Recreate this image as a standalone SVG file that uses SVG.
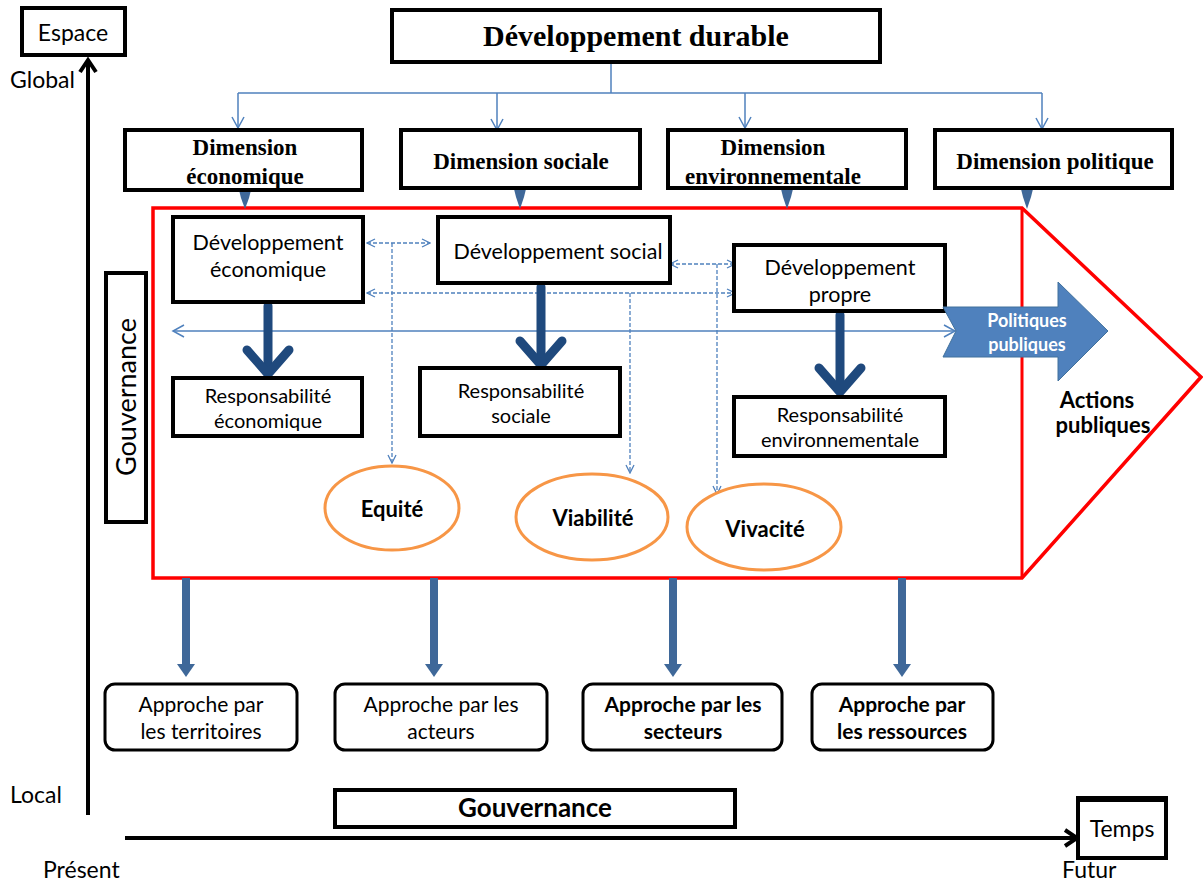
<svg xmlns="http://www.w3.org/2000/svg" width="1203" height="881" viewBox="0 0 1203 881">
<style>
.box{fill:#fff;stroke:#000;stroke-width:4}
.rbox{fill:#fff;stroke:#000;stroke-width:3}
.serif{font-family:"Liberation Serif","Times New Roman",serif;font-weight:bold;fill:#000}
.sans{font-family:Lato,"Liberation Sans",sans-serif;fill:#000}
.b{font-weight:bold}
.thin{stroke:#4F81BD;stroke-width:1.5;fill:none}
.dash{stroke:#4F81BD;stroke-width:1.3;fill:none;stroke-dasharray:4 2}
.ell{fill:#fff;stroke:#F79646;stroke-width:3}
.thick{stroke:#1F497D;stroke-width:9;fill:none;stroke-linejoin:round;stroke-linecap:round}
.down{fill:#3F6899}
.axis{stroke:#000;stroke-width:4;fill:none}
</style>
<defs>
<marker id="open" viewBox="0 0 10 10" refX="9" refY="5" markerWidth="10" markerHeight="10" markerUnits="userSpaceOnUse" orient="auto-start-reverse">
<path d="M1,1 L9,5 L1,9" fill="none" stroke="#4F81BD" stroke-width="1.3"/>
</marker>
<marker id="openb" viewBox="0 0 14 14" refX="12" refY="7" markerWidth="14" markerHeight="14" markerUnits="userSpaceOnUse" orient="auto-start-reverse">
<path d="M1,1 L12,7 L1,13" fill="none" stroke="#4F81BD" stroke-width="1.5"/>
</marker>
</defs>
<rect width="1203" height="881" fill="#fff"/>

<!-- axes -->
<g id="axes">
<path class="axis" d="M88,815 L88,60"/>
<path class="axis" d="M80,72 L88,60 L96,72"/>
<path class="axis" d="M125,838 L1077,838"/>
<path class="axis" d="M1065,830 L1077,838 L1065,846"/>
<text class="sans" x="10" y="88" font-size="23">Global</text>
<text class="sans" x="10" y="803" font-size="23">Local</text>
<text class="sans" x="43" y="878" font-size="23">Présent</text>
<text class="sans" x="1062" y="878" font-size="23">Futur</text>
</g>
<g id="espace">
<rect class="box" x="22" y="8" width="103" height="47"/>
<text class="sans" x="73" y="41" font-size="23" text-anchor="middle">Espace</text>
</g>
<g id="temps">
<rect class="box" x="1078" y="798" width="88" height="60"/>
<path d="M1078,799 L1166,799" stroke="#000" stroke-width="6"/>
<text class="sans" x="1122" y="837" font-size="23" text-anchor="middle">Temps</text>
</g>
<g id="gouvernance-bas">
<rect class="box" x="335" y="790" width="400" height="37"/>
<text class="sans b" x="535" y="817" font-size="26" text-anchor="middle">Gouvernance</text>
</g>

<!-- red pentagon -->
<g id="cadre">
<path d="M153,208 L1022,208 L1201,377 L1022,578 L153,578 Z" fill="none" stroke="#FF0000" stroke-width="3.5"/>
<path d="M1022,208 L1022,578" stroke="#FF0000" stroke-width="3"/>
</g>

<!-- connectors -->
<g id="connectors">
<path class="thin" d="M611,57 L611,93"/>
<path class="thin" d="M238,93 L1042,93"/>
<path class="thin" d="M238,93 L238,128" marker-end="url(#openb)"/>
<path class="thin" d="M497,93 L497,130" marker-end="url(#openb)"/>
<path class="thin" d="M745,93 L745,128" marker-end="url(#openb)"/>
<path class="thin" d="M1042,93 L1042,129" marker-end="url(#openb)"/>
<path class="down" d="M239,190 L251,190 L249,198 L245,209 L241,198 Z"/>
<path class="down" d="M514,189 L526,189 L524,197 L520,209 L516,197 Z"/>
<path class="down" d="M781,189 L793,189 L791,197 L787,209 L783,197 Z"/>
<path class="down" d="M1021,189 L1033,189 L1031,197 L1027,209 L1023,197 Z"/>
<path class="thin" d="M173,331 L955,331" marker-start="url(#openb)" marker-end="url(#openb)"/>
<path class="dash" d="M367,243 L430,243" marker-start="url(#open)" marker-end="url(#open)"/>
<path class="dash" d="M392,243 L392,463" marker-end="url(#open)"/>
<path class="dash" d="M670,264 L735,264" marker-start="url(#open)" marker-end="url(#open)"/>
<path class="dash" d="M717,264 L717,494" marker-end="url(#open)"/>
<path class="dash" d="M367,293 L735,293" marker-start="url(#open)" marker-end="url(#open)"/>
<path class="dash" d="M630,293 L630,473" marker-end="url(#open)"/>
<path class="thick" d="M268,306 L268,370"/>
<path class="thick" d="M247,350 L268,374 L289,350"/>
<path class="thick" d="M541,287 L541,361"/>
<path class="thick" d="M520,341 L541,365 L562,341"/>
<path class="thick" d="M840,315 L840,388"/>
<path class="thick" d="M819,368 L840,392 L861,368"/>
<g class="down">
<rect x="182" y="578" width="8" height="88"/>
<path d="M177,664 L195,664 L186,677 Z"/>
<rect x="430" y="578" width="8" height="88"/>
<path d="M425,664 L443,664 L434,677 Z"/>
<rect x="669" y="578" width="8" height="88"/>
<path d="M664,664 L682,664 L673,677 Z"/>
<rect x="898" y="578" width="8" height="88"/>
<path d="M893,664 L911,664 L902,677 Z"/>
</g>
</g>

<g id="dev-durable">
<rect class="box" x="392" y="10" width="488" height="52"/>
<text class="serif" x="636" y="46" font-size="30" text-anchor="middle">Développement durable</text>
</g>
<g id="dim-eco">
<rect class="box" x="125" y="130" width="237" height="60"/>
<text class="serif" x="245" y="155" font-size="23" text-anchor="middle">Dimension</text>
<text class="serif" x="245" y="184" font-size="23" text-anchor="middle">économique</text>
</g>
<g id="dim-soc">
<rect class="box" x="401" y="130" width="239" height="58"/>
<text class="serif" x="521" y="169" font-size="23" text-anchor="middle">Dimension sociale</text>
</g>
<g id="dim-env">
<rect class="box" x="668" y="130" width="238" height="58"/>
<text class="serif" x="773" y="155" font-size="23" text-anchor="middle">Dimension</text>
<text class="serif" x="773" y="184" font-size="23" text-anchor="middle">environnementale</text>
</g>
<g id="dim-pol">
<rect class="box" x="935" y="130" width="237" height="58"/>
<text class="serif" x="1055" y="169" font-size="23" text-anchor="middle">Dimension politique</text>
</g>

<g id="gouvernance-v">
<rect class="box" x="106" y="273" width="40" height="249"/>
<text class="sans" x="0" y="0" font-size="27" text-anchor="middle" transform="translate(136,397) rotate(-90)">Gouvernance</text>
</g>

<g id="dev-eco">
<rect class="box" x="173" y="217" width="190" height="85"/>
<text class="sans" x="268" y="250" font-size="21.5" text-anchor="middle">Développement</text>
<text class="sans" x="268" y="277" font-size="21.5" text-anchor="middle">économique</text>
</g>
<g id="dev-soc">
<rect class="box" x="438" y="217" width="232" height="66"/>
<text class="sans" x="558" y="259" font-size="21.5" text-anchor="middle">Développement social</text>
</g>
<g id="dev-propre">
<rect class="box" x="734" y="245" width="211" height="66"/>
<text class="sans" x="840" y="275" font-size="21.5" text-anchor="middle">Développement</text>
<text class="sans" x="840" y="302" font-size="21.5" text-anchor="middle">propre</text>
</g>
<g id="resp-eco">
<rect class="box" x="173" y="378" width="189" height="58"/>
<text class="sans" x="268" y="403" font-size="20" text-anchor="middle">Responsabilité</text>
<text class="sans" x="268" y="428" font-size="20" text-anchor="middle">économique</text>
</g>
<g id="resp-soc">
<rect class="box" x="420" y="368" width="200" height="68"/>
<text class="sans" x="521" y="398" font-size="20" text-anchor="middle">Responsabilité</text>
<text class="sans" x="521" y="423" font-size="20" text-anchor="middle">sociale</text>
</g>
<g id="resp-env">
<rect class="box" x="734" y="397" width="211" height="59"/>
<text class="sans" x="840" y="422" font-size="20" text-anchor="middle">Responsabilité</text>
<text class="sans" x="840" y="447" font-size="20" text-anchor="middle">environnementale</text>
</g>

<g id="equite">
<ellipse class="ell" cx="392" cy="508" rx="67" ry="42"/>
<text class="sans b" x="392" y="517" font-size="22" text-anchor="middle">Equité</text>
</g>
<g id="viabilite">
<ellipse class="ell" cx="592" cy="517" rx="76" ry="43"/>
<text class="sans b" x="593" y="526" font-size="22" text-anchor="middle">Viabilité</text>
</g>
<g id="vivacite">
<ellipse class="ell" cx="764" cy="527" rx="77" ry="43"/>
<text class="sans b" x="765" y="537" font-size="22" text-anchor="middle">Vivacité</text>
</g>

<g id="politiques">
<path d="M943,307 L1058,307 L1058,282 L1108,331 L1058,381 L1058,357 L943,357 L956,331 Z" fill="#4F81BD" stroke="#41719C" stroke-width="1"/>
<text class="sans b" x="1027" y="327" font-size="18" text-anchor="middle" style="fill:#fff">Politiques</text>
<text class="sans b" x="1027" y="351" font-size="18" text-anchor="middle" style="fill:#fff">publiques</text>
</g>
<g id="actions">
<text class="sans b" x="1097" y="408" font-size="22" text-anchor="middle">Actions</text>
<text class="sans b" x="1103" y="433" font-size="22" text-anchor="middle">publiques</text>
</g>

<g id="approche-territoires">
<rect class="rbox" x="105" y="684" width="192" height="66" rx="10"/>
<text class="sans" x="201" y="712" font-size="21" text-anchor="middle">Approche par</text>
<text class="sans" x="201" y="739" font-size="21" text-anchor="middle">les territoires</text>
</g>
<g id="approche-acteurs">
<rect class="rbox" x="335" y="684" width="212" height="66" rx="10"/>
<text class="sans" x="441" y="712" font-size="21" text-anchor="middle">Approche par les</text>
<text class="sans" x="441" y="739" font-size="21" text-anchor="middle">acteurs</text>
</g>
<g id="approche-secteurs">
<rect class="rbox" x="583" y="684" width="199" height="66" rx="10"/>
<text class="sans b" x="683" y="712" font-size="21" text-anchor="middle">Approche par les</text>
<text class="sans b" x="683" y="739" font-size="21" text-anchor="middle">secteurs</text>
</g>
<g id="approche-ressources">
<rect class="rbox" x="812" y="684" width="181" height="66" rx="10"/>
<text class="sans b" x="902" y="712" font-size="21" text-anchor="middle">Approche par</text>
<text class="sans b" x="902" y="739" font-size="21" text-anchor="middle">les ressources</text>
</g>
</svg>
